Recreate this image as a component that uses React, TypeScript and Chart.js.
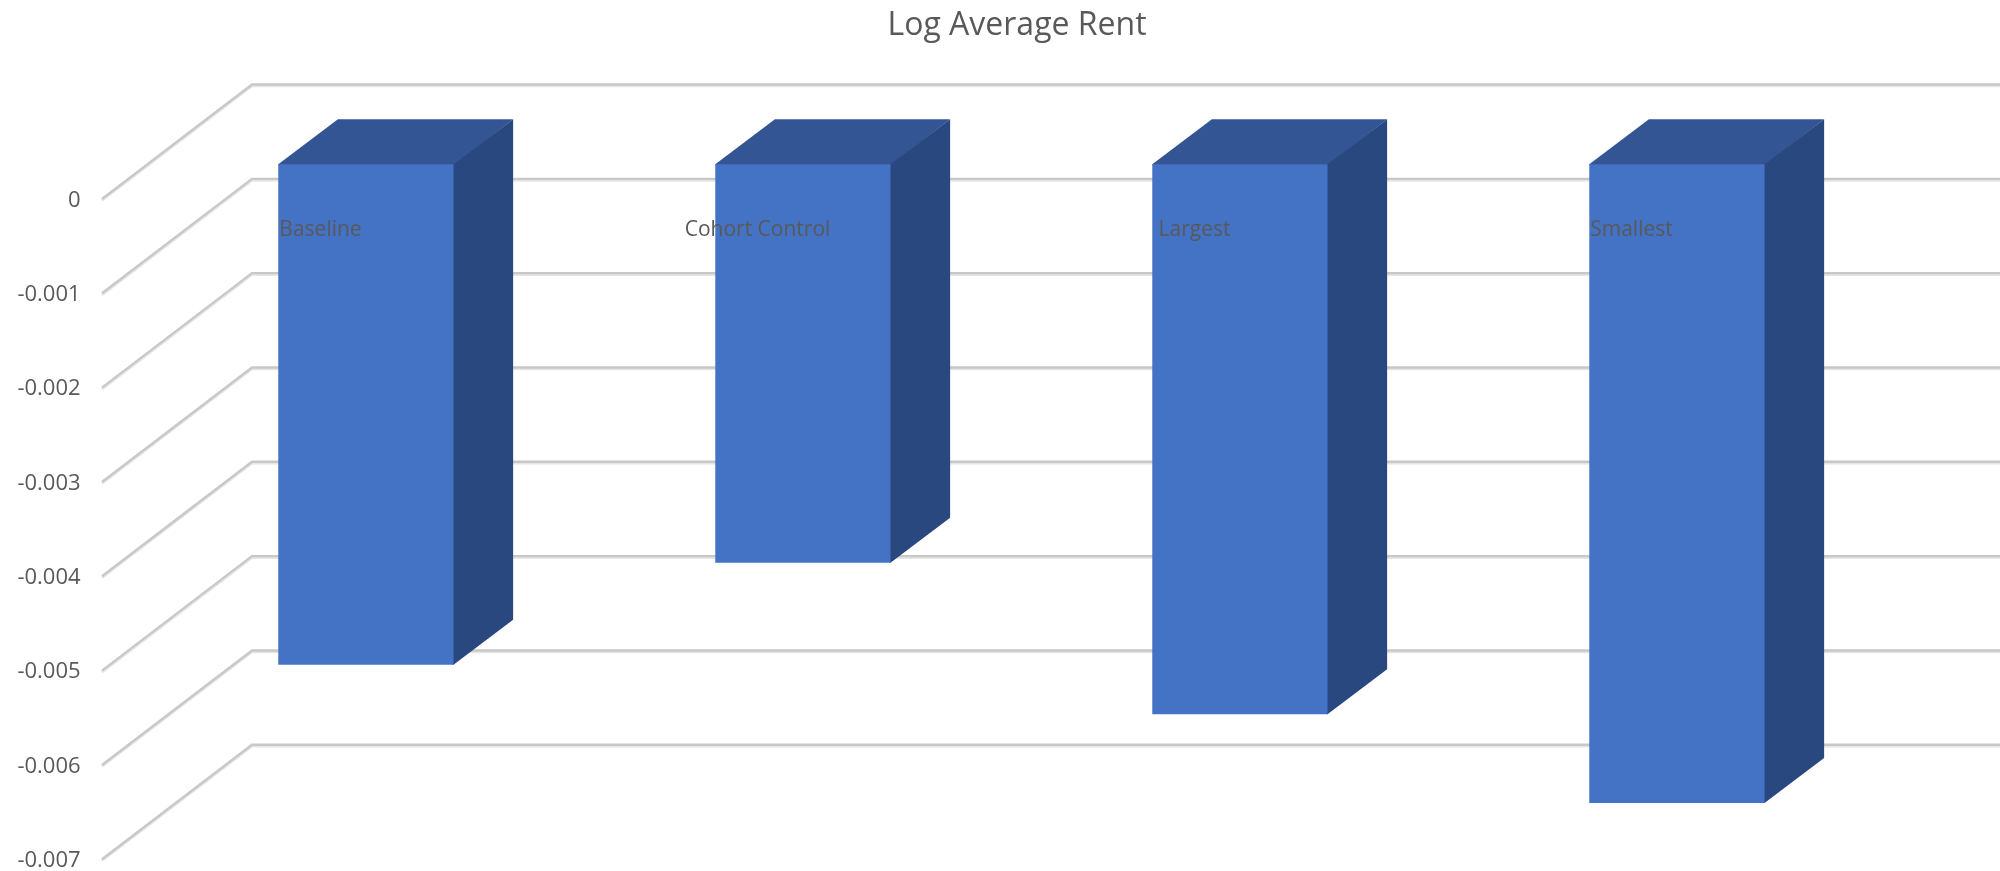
import React, { useEffect, useRef } from "react";
import { Chart, registerables } from "chart.js";

Chart.register(...registerables);

const categories = ["Baseline", "Cohort Control", "Largest", "Smallest"];
const rentValues = [-0.005305, -0.004223, -0.00583, -0.00677];
const axisMin = -0.007;
const axisMax = 0;
const axisStep = 0.001;
const barPlaneShift = 0.000368;

const chartTitle = "Log Average Rent";
const textColor = "#595959";
const fontFamily = "'Open Sans', sans-serif";
const frontColor = "#4472C4";
const topColor = "#335593";
const sideColor = "#2A4880";
const wallDepthX = 150;
const wallDepthY = 114.5;
const barDepthX = 59.6;
const barDepthY = 45;
const wallLeftInset = 45.4;
const titleBoxLeft = 138.6;

const faux3d = {
  id: "faux3d",
  beforeDraw(chart: any) {
    chart.titleBlock.left = titleBoxLeft;
  },
  beforeDatasetsDraw(chart: any) {
    const { ctx, scales, canvas } = chart;
    const y = scales.y;
    const startX = chart.chartArea.left - wallLeftInset;
    ctx.save();
    ctx.lineJoin = "miter";
    y.ticks.forEach((t: any) => {
      const py = y.getPixelForValue(t.value);
      const path = (off: number) => {
        ctx.beginPath();
        ctx.moveTo(startX, py + off);
        ctx.lineTo(startX + wallDepthX, py - wallDepthY + off);
        ctx.lineTo(canvas.width, py - wallDepthY + off);
      };
      ctx.strokeStyle = "#E6E6E6";
      ctx.lineWidth = 2.4;
      path(1.6);
      ctx.stroke();
      ctx.strokeStyle = "#C8C8C8";
      ctx.lineWidth = 2.4;
      path(0);
      ctx.stroke();
    });
    const meta = chart.getDatasetMeta(0);
    meta.data.forEach((bar: any) => {
      const { x, y: tip, base, width } = bar.getProps(["x", "y", "base", "width"]);
      const l = x - width / 2;
      const r = x + width / 2;
      ctx.fillStyle = topColor;
      ctx.beginPath();
      ctx.moveTo(l, base + 1);
      ctx.lineTo(l, base);
      ctx.lineTo(l + barDepthX, base - barDepthY);
      ctx.lineTo(r + barDepthX, base - barDepthY);
      ctx.lineTo(r, base + 1);
      ctx.closePath();
      ctx.fill();
      ctx.fillStyle = sideColor;
      ctx.beginPath();
      ctx.moveTo(r - 1, base);
      ctx.lineTo(r, base);
      ctx.lineTo(r + barDepthX, base - barDepthY);
      ctx.lineTo(r + barDepthX, tip - barDepthY);
      ctx.lineTo(r, tip);
      ctx.lineTo(r - 1, tip);
      ctx.closePath();
      ctx.fill();
    });
    ctx.restore();
  },
};

export default function App() {
  const ref = useRef<HTMLCanvasElement | null>(null);
  useEffect(() => {
    if (!ref.current) return;
    const chart = new Chart(ref.current, {
      type: "bar",
      data: {
        labels: categories,
        datasets: [
          {
            label: chartTitle,
            data: rentValues,
            backgroundColor: frontColor,
            borderWidth: 0,
            barPercentage: 0.401,
            categoryPercentage: 1,
            yAxisID: "yBar",
            xAxisID: "x",
            clip: false,
          } as any,
        ],
      },
      options: {
        responsive: false,
        animation: false,
        layout: { padding: { left: 0, right: 104.6, top: 0, bottom: 11.7 } },
        plugins: {
          legend: { display: false },
          tooltip: { enabled: false },
          title: {
            display: true,
            text: chartTitle,
            color: textColor,
            font: { family: fontFamily, size: 32, weight: "normal", lineHeight: 1.2 },
            padding: { top: 6.5, bottom: 154.1 },
          },
        },
        scales: {
          x: {
            type: "category",
            position: { y: 0 } as any,
            grid: { display: false },
            border: { display: false },
            afterFit: (s: any) => {
              s.height = 0;
            },
            ticks: {
              z: 1,
              color: textColor,
              font: { family: fontFamily, size: 21 },
              padding: 10,
              labelOffset: -wallLeftInset,
              autoSkip: false,
              maxRotation: 0,
            },
          },
          y: {
            type: "linear",
            position: "left",
            min: axisMin,
            max: axisMax,
            grid: { display: false, drawTicks: false },
            border: { display: false },
            afterFit: (s: any) => {
              s.width = 147.4;
              s.paddingTop = 0;
              s.paddingBottom = 0;
            },
            ticks: {
              stepSize: axisStep,
              color: textColor,
              font: { family: fontFamily, size: 22 },
              padding: 66.8,
              labelOffset: 1.5,
              callback: (v: any) => String(Number(Number(v).toFixed(3))),
            },
          },
          yBar: {
            type: "linear",
            display: false,
            min: axisMin - barPlaneShift,
            max: axisMax - barPlaneShift,
          },
        },
      },
      plugins: [faux3d],
    });
    return () => chart.destroy();
  }, []);
  return (
    <div style={{ position: "fixed", left: 0, top: 0, width: 2000, height: 871, background: "#fff" }}>
      <canvas ref={ref} width={2000} height={871} style={{ display: "block" }} />
    </div>
  );
}
